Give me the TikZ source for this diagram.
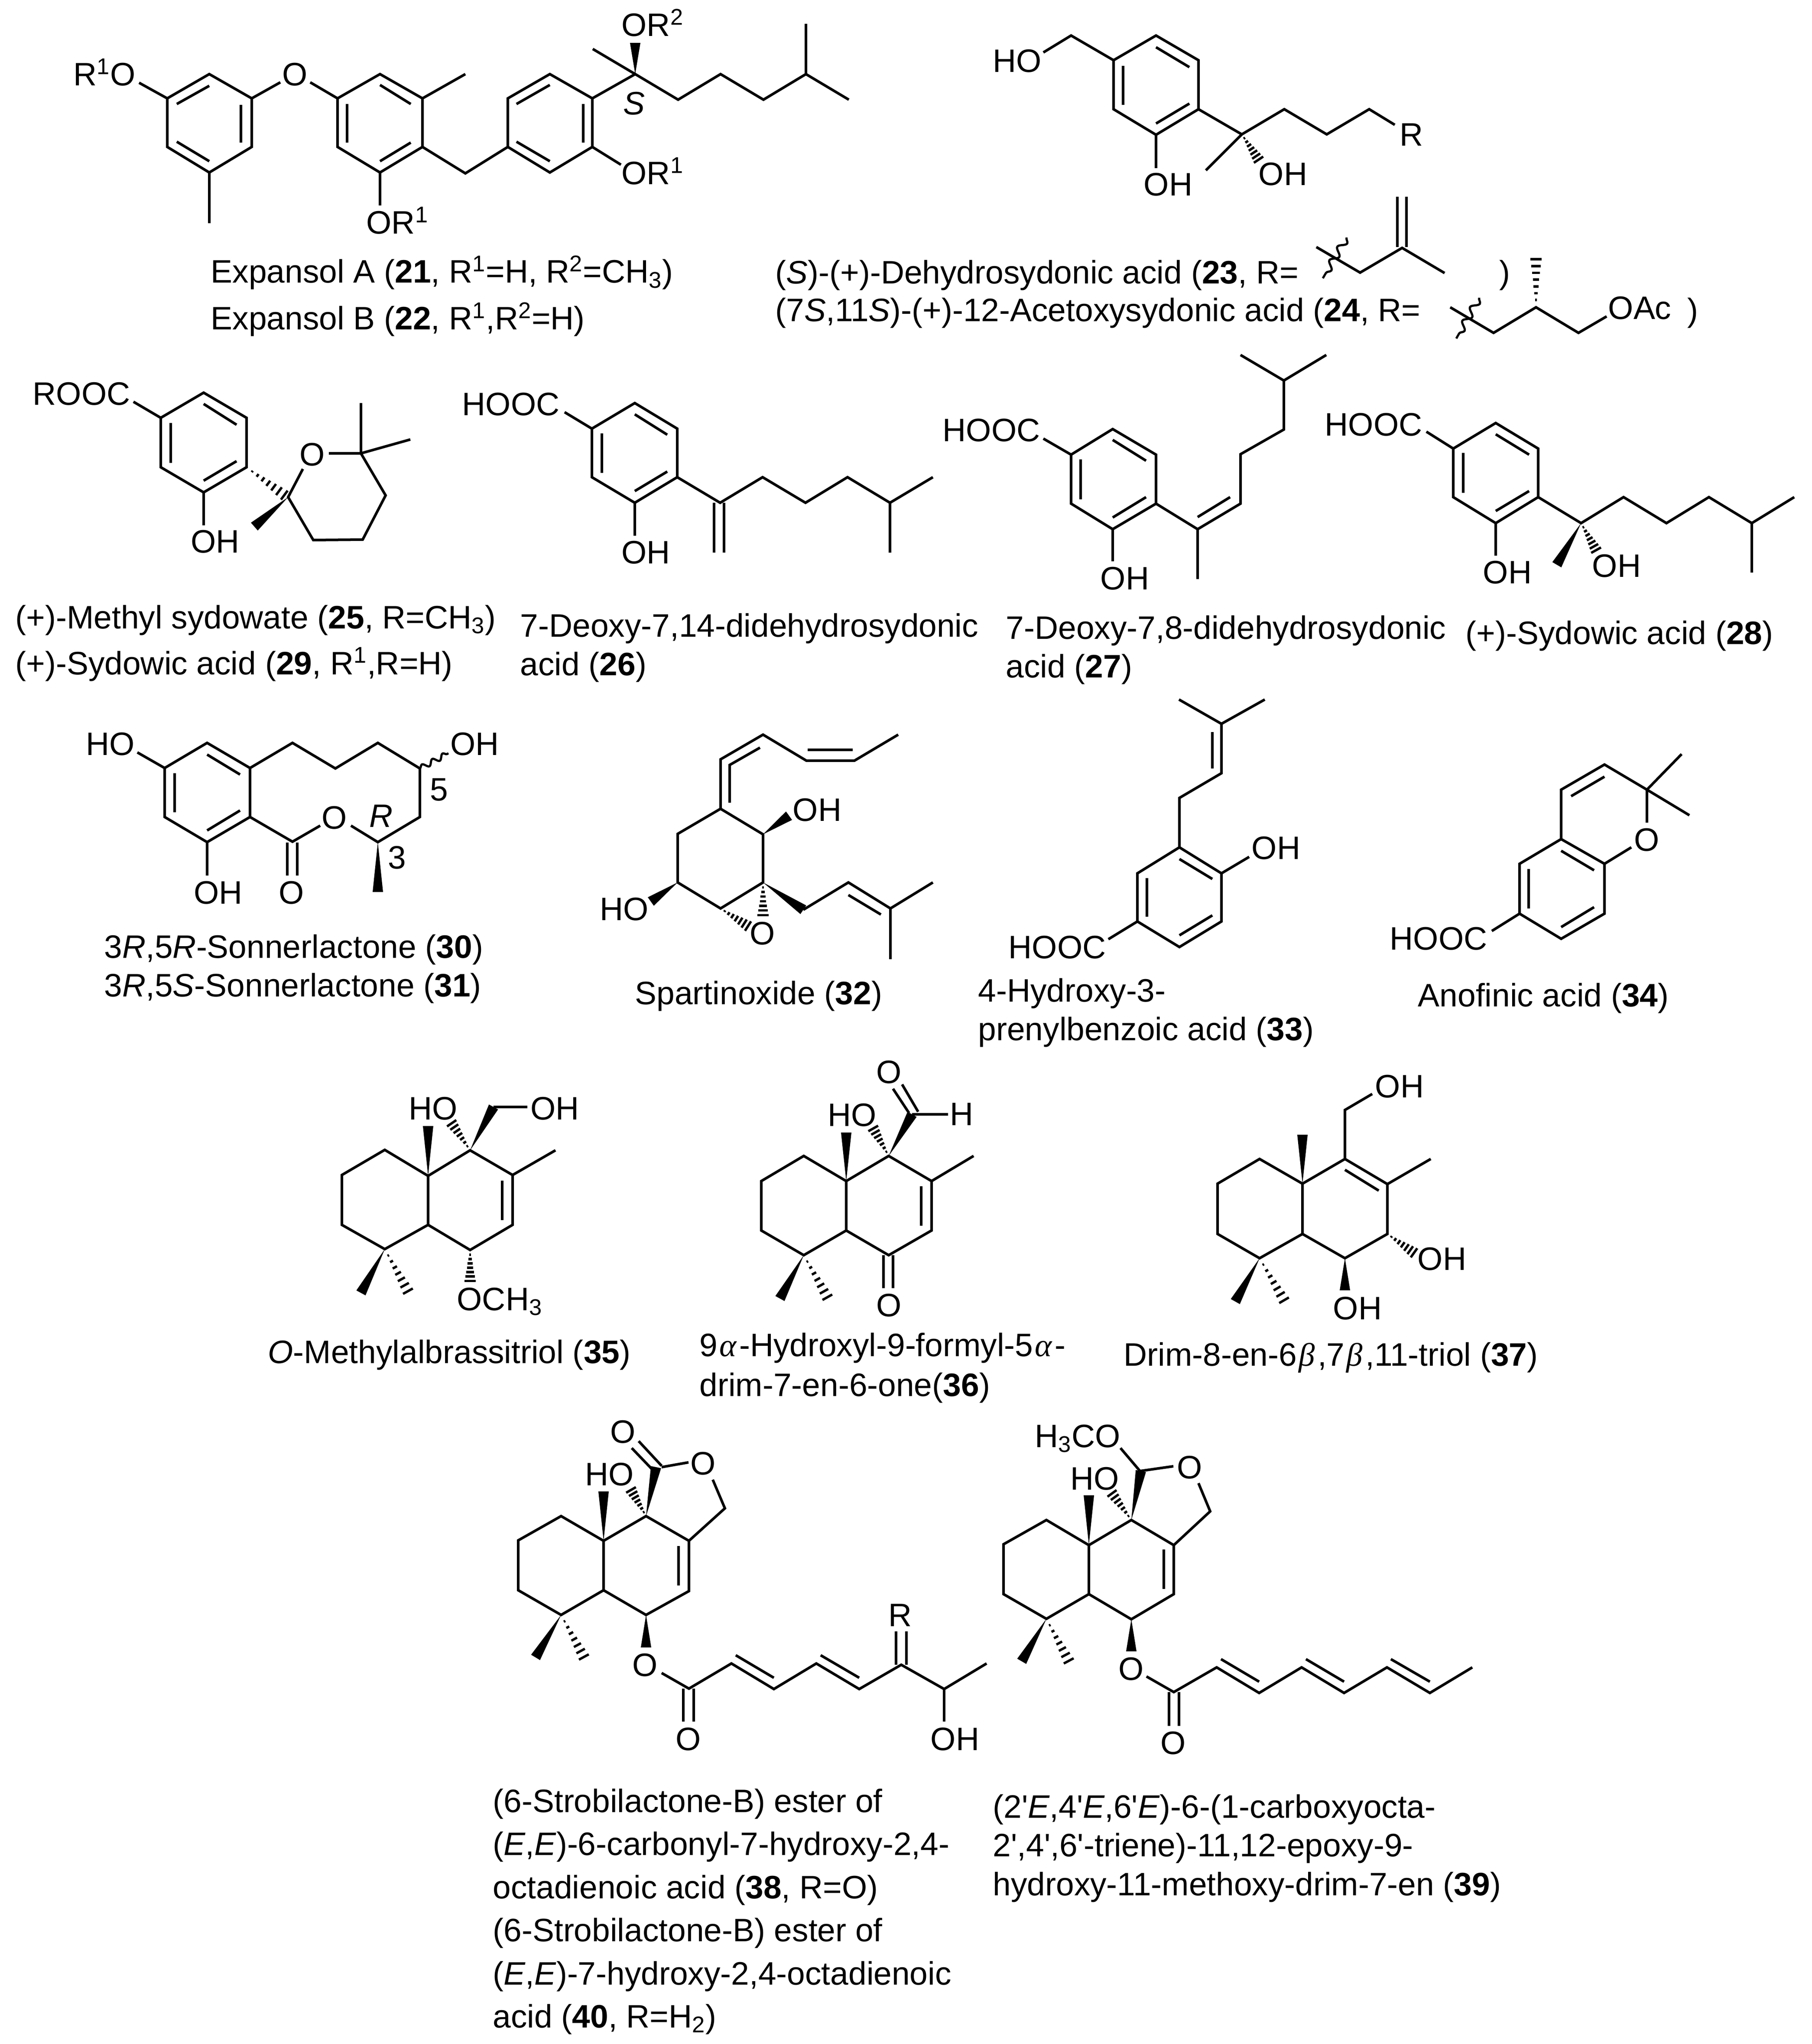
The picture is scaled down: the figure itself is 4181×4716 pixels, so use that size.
\documentclass[tikz,border=0pt]{standalone}
\usepackage{fontspec}
\newfontfamily\arialfont{Liberation Sans}
\newfontfamily\greekfont{Liberation Serif}
\usetikzlibrary{calc,decorations.pathmorphing}
\tikzset{
	bond/.style={line width=0.06cm},
	hashline/.style={line width=0.055cm},
	wavy/.style={line width=0.05cm,decorate,decoration={snake,amplitude=0.08cm,segment length=0.36cm}},
	txt/.style={font=\arialfont\fontsize{21.3}{25}\selectfont,inner sep=0pt,anchor=base west,xshift=-0.05cm}
}
\def\wedgebond(#1)(#2){\fill ($(#2)!0.12cm!90:(#1)$) -- (#1) -- ($(#2)!0.12cm!-90:(#1)$) -- cycle;}
\def\hashbond(#1)(#2){\foreach \t in {0.15,0.29,0.43,0.57,0.71,0.85,0.99}{\pgfmathsetmacro\hw{0.13*\t}\draw[hashline] ($(#1)!\t!(#2)!\hw cm!90:(#2)$) -- ($(#1)!\t!(#2)!\hw cm!-90:(#2)$);}}
\def\greek#1{\kern0.05em{\greekfont\itshape #1}\kern0.09em}

\begin{document}
\begin{tikzpicture}[x=0.01cm,y=-0.01cm]
	\useasboundingbox (0,0) rectangle (4181,4716);
	%%%%% 21, 22 %%%%%
	\draw[bond] (386,227) -- (483,171) -- (581,227) -- (581,339) -- (483,398) -- (386,339) -- cycle;
	\draw[bond] (408,240) -- (483,198) (556,242) -- (556,329) (408,327) -- (483,372);
	\draw[bond] (483,398) -- (483,515) (321,191) -- (386,227) (581,227) -- (647,190) (716,190) -- (779,227);
	\draw[bond] (779,227) -- (877,171) -- (975,227) -- (975,339) -- (877,398) -- (779,339) -- cycle;
	\draw[bond] (877,196) -- (948,240) (801,240) -- (801,329) (948,329) -- (877,372);
	\draw[bond] (975,227) -- (1074,171) (877,398) -- (877,474) (975,339) -- (1074,400) -- (1172,339);
	\draw[bond] (1172,227) -- (1269,171) -- (1367,227) -- (1367,339) -- (1269,398) -- (1172,339) -- cycle;
	\draw[bond] (1192,240) -- (1269,196) (1346,240) -- (1346,329) (1192,327) -- (1269,372);
	\draw[bond] (1367,227) -- (1466,171) -- (1565,230) -- (1663,171) -- (1762,230) -- (1860,171) -- (1959,230);
	\draw[bond] (1860,171) -- (1860,55) (1466,171) -- (1368,113) (1367,339) -- (1433,380);
	\wedgebond(1466,171)(1466,99)
	\node[txt] (ra) at (174,198) {R\textsuperscript{1}O};
	\node[txt] (oa) at (656,198) {O};
	\node[txt] (orb) at (850,540) {OR\textsuperscript{1}};
	\node[txt] (orc) at (1439,426) {OR\textsuperscript{1}};
	\node[txt] (ord) at (1439,84) {OR\textsuperscript{2}};
	\node[txt] (sa) at (1443,265) {\textit{S}};
	\node[txt] (t21) at (491,653) {Expansol A (\textbf{21}, R\textsuperscript{1}=H, R\textsuperscript{2}=CH\textsubscript{3})};
	\node[txt] (t22) at (491,761) {Expansol B (\textbf{22}, R\textsuperscript{1},R\textsuperscript{2}=H)};
	
	%%%%% 23, 24 %%%%%
	\draw[bond] (2570,139) -- (2668,82) -- (2766,139) -- (2766,252) -- (2668,311) -- (2570,252) -- cycle;
	\draw[bond] (2668,109) -- (2745,155) (2592,152) -- (2592,242) (2745,239) -- (2668,285);
	\draw[bond] (2570,139) -- (2472,82) -- (2408,121) (2668,311) -- (2668,388);
	\draw[bond] (2766,252) -- (2866,310) -- (2964,252) -- (3062,310) -- (3160,252) -- (3219,288) (2866,310) -- (2783,393);
	\hashbond(2866,310)(2905,369)
	\node[txt] (hoa) at (2296,167) {HO};
	\node[txt] (oha) at (2644,452) {OH};
	\node[txt] (ohb) at (2909,428) {OH};
	\node[txt] (ra2) at (3235,337) {R};
	\draw[bond] (3038,570) -- (3139,629) -- (3236,572) -- (3334,630) (3225,570) -- (3225,454) (3246,570) -- (3246,454);
	\draw[wavy] (3108,548) -- (3053,642);
	\node[txt] (t23) at (1794,655) {(\textit{S})-(+)-Dehydrosydonic acid (\textbf{23}, R=};
	\node[txt] (t23b) at (3465,655) {)};
	\draw[bond] (3347,709) -- (3447,768) -- (3545,709) -- (3643,768) -- (3708,730);
	\hashbond(3545,709)(3545,597)
	\draw[wavy] (3414,687) -- (3361,781);
	\node[txt] (oac) at (3716,737) {OAc};
	\node[txt] (t24) at (1794,742) {(7\textit{S},11\textit{S})-(+)-12-Acetoxysydonic acid (\textbf{24}, R=};
	\node[txt] (t24b) at (3899,742) {)};
	
	%%%%% 25, 29 %%%%%
	\draw[bond] (371,964) -- (470,906) -- (569,964) -- (569,1078) -- (470,1136) -- (371,1078) -- cycle;
	\draw[bond] (470,932) -- (546,980) (394,976) -- (394,1068) (546,1064) -- (470,1109);
	\draw[bond] (308,927) -- (371,964) (470,1136) -- (470,1212);
	\draw[bond] (699,1082) -- (665,1147) -- (723,1246) -- (837,1245) -- (890,1143) -- (833,1046) -- (759,1046);
	\draw[bond] (833,1046) -- (833,930) (833,1046) -- (947,1014);
	\hashbond(569,1078)(657,1143)
	\wedgebond(665,1147)(587,1215)
	\node[txt] (rooc) at (80,935) {ROOC};
	\node[txt] (ohc) at (445,1275) {OH};
	\node[txt] (ob) at (696,1074) {O};
	\node[txt] (t25) at (40,1450) {(+)-Methyl sydowate (\textbf{25}, R=CH\textsubscript{3})};
	\node[txt] (t29) at (40,1556) {(+)-Sydowic acid (\textbf{29}, R\textsuperscript{1},R=H)};
	
	%%%%% 26 %%%%%
	\draw[bond] (1366,989) -- (1465,930) -- (1563,989) -- (1563,1101) -- (1465,1160) -- (1366,1101) -- cycle;
	\draw[bond] (1465,956) -- (1540,1003) (1389,1000) -- (1389,1091) (1540,1088) -- (1465,1133);
	\draw[bond] (1303,951) -- (1366,989) (1465,1160) -- (1465,1236);
	\draw[bond] (1563,1101) -- (1662,1160) -- (1760,1101) -- (1859,1160) -- (1956,1101) -- (2054,1160) -- (2153,1101) (2054,1160) -- (2054,1275);
	\draw[bond] (1648,1160) -- (1648,1275) (1671,1160) -- (1671,1275);
	\node[txt] (hoocb) at (1071,959) {HOOC};
	\node[txt] (ohd) at (1439,1300) {OH};
	\node[txt] (t26) at (1205,1469) {7-Deoxy-7,14-didehydrosydonic};
	\node[txt] (t26b) at (1205,1558) {acid (\textbf{26})};
	
	%%%%% 27 %%%%%
	\draw[bond] (2472,1049) -- (2568,990) -- (2668,1049) -- (2668,1162) -- (2568,1221) -- (2472,1162) -- cycle;
	\draw[bond] (2568,1015) -- (2645,1063) (2494,1060) -- (2494,1152) (2645,1147) -- (2568,1194);
	\draw[bond] (2408,1012) -- (2472,1049) (2568,1221) -- (2568,1295);
	\draw[bond] (2668,1162) -- (2764,1221) -- (2863,1162) -- (2863,1048) -- (2963,991) -- (2963,878);
	\draw[bond] (2863,819) -- (2963,878) -- (3061,819) (2764,1193) -- (2839,1147) (2764,1221) -- (2764,1336);
	\node[txt] (hoocc) at (2180,1018) {HOOC};
	\node[txt] (ohe) at (2544,1360) {OH};
	\node[txt] (t27) at (2326,1474) {7-Deoxy-7,8-didehydrosydonic};
	\node[txt] (t27b) at (2326,1563) {acid (\textbf{27})};
	
	%%%%% 28 %%%%%
	\draw[bond] (3354,1035) -- (3452,976) -- (3550,1035) -- (3550,1147) -- (3452,1207) -- (3354,1147) -- cycle;
	\draw[bond] (3452,1002) -- (3529,1049) (3377,1045) -- (3377,1137) (3529,1133) -- (3452,1179);
	\draw[bond] (3292,996) -- (3354,1035) (3452,1207) -- (3452,1282);
	\draw[bond] (3550,1147) -- (3649,1207) -- (3747,1147) -- (3846,1207) -- (3944,1147) -- (4043,1207) -- (4141,1147) (4043,1207) -- (4043,1321);
	\wedgebond(3649,1207)(3593,1303)
	\hashbond(3649,1207)(3684,1270)
	\node[txt] (hoocd) at (3062,1005) {HOOC};
	\node[txt] (ohf) at (3427,1346) {OH};
	\node[txt] (ohg) at (3679,1331) {OH};
	\node[txt] (t28) at (3387,1486) {(+)-Sydowic acid (\textbf{28})};
	
	%%%%% 30, 31 %%%%%
	\draw[bond] (380,1772) -- (478,1714) -- (577,1772) -- (577,1885) -- (478,1943) -- (380,1885) -- cycle;
	\draw[bond] (478,1741) -- (554,1787) (403,1784) -- (403,1874) (554,1870) -- (478,1916);
	\draw[bond] (317,1736) -- (380,1772) (478,1943) -- (478,2020);
	\draw[bond] (577,1772) -- (675,1714) -- (774,1773) -- (872,1714) -- (969,1773) -- (969,1885) -- (872,1943) -- (810,1905);
	\draw[bond] (577,1885) -- (675,1942) -- (739,1905) (663,1944) -- (663,2020) (686,1944) -- (686,2020);
	\wedgebond(872,1943)(872,2058)
	\draw[wavy,decoration={amplitude=0.06cm,segment length=0.27cm}] (969,1773) -- (1035,1738);
	\node[txt] (hob) at (203,1742) {HO};
	\node[txt] (ohh) at (452,2085) {OH};
	\node[txt] (oc) at (747,1912) {O};
	\node[txt] (od) at (648,2085) {O};
	\node[txt] (ohi) at (1044,1742) {OH};
	\node[txt] (nthree) at (900,2004) {3};
	\node[txt] (nfive) at (997,1847) {5};
	\node[txt] (rb) at (857,1908) {\textit{R}};
	\node[txt] (t30) at (245,2210) {3\textit{R},5\textit{R}-Sonnerlactone (\textbf{30})};
	\node[txt] (t31) at (245,2299) {3\textit{R},5\textit{S}-Sonnerlactone (\textbf{31})};
	
	%%%%% 32 %%%%%
	\draw[bond] (1663,1866) -- (1564,1924) -- (1564,2036) -- (1663,2096) -- (1761,2036) -- (1761,1925) -- cycle;
	\draw[bond] (1663,1866) -- (1663,1752) -- (1761,1695) -- (1861,1755) -- (1972,1755) -- (2073,1695);
	\draw[bond] (1684,1852) -- (1684,1765) -- (1754,1725) (1864,1730) -- (1968,1730);
	\draw[bond] (1854,2099) -- (1958,2036) -- (2055,2096) -- (2055,2213) (2055,2096) -- (2153,2036) (1958,2065) -- (2033,2110);
	\wedgebond(1761,1925)(1821,1882)
	\wedgebond(1564,2036)(1502,2080)
	\wedgebond(1761,2036)(1854,2099)
	\hashbond(1761,2036)(1761,2112)
	\hashbond(1663,2096)(1727,2137)
	\node[txt] (ohj) at (1834,1894) {OH};
	\node[txt] (hoc) at (1389,2123) {HO};
	\node[txt] (oe) at (1735,2179) {O};
	\node[txt] (t32) at (1470,2317) {Spartinoxide (\textbf{32})};
	
	%%%%% 33 %%%%%
	\draw[bond] (2625,2015) -- (2722,1955) -- (2819,2015) -- (2819,2126) -- (2722,2185) -- (2625,2126) -- cycle;
	\draw[bond] (2722,1982) -- (2798,2028) (2647,2026) -- (2647,2115) (2798,2112) -- (2722,2158);
	\draw[bond] (2722,1955) -- (2722,1841) -- (2819,1784) -- (2819,1670) -- (2721,1614) (2819,1670) -- (2919,1614) (2798,1689) -- (2798,1773);
	\draw[bond] (2819,2015) -- (2883,1977) (2625,2126) -- (2558,2167);
	\node[txt] (ohk) at (2893,1982) {OH};
	\node[txt] (hoocE) at (2332,2211) {HOOC};
	\node[txt] (t33) at (2262,2311) {4-Hydroxy-3-};
	\node[txt] (t33b) at (2262,2400) {prenylbenzoic acid (\textbf{33})};
	
	%%%%% 34 %%%%%
	\draw[bond] (3507,1993) -- (3603,1936) -- (3703,1993) -- (3703,2108) -- (3603,2166) -- (3507,2108) -- cycle;
	\draw[bond] (3603,1963) -- (3679,2008) (3528,2005) -- (3528,2096) (3679,2093) -- (3603,2139);
	\draw[bond] (3603,1936) -- (3603,1822) -- (3703,1764) -- (3801,1822) -- (3801,1898) (3626,1837) -- (3703,1792);
	\draw[bond] (3881,1740) -- (3801,1822) -- (3899,1881) (3703,1993) -- (3765,1955) (3507,2108) -- (3443,2148);
	\node[txt] (of) at (3776,1963) {O};
	\node[txt] (hoocf) at (3212,2191) {HOOC};
	\node[txt] (t34) at (3277,2322) {Anofinic acid (\textbf{34})};
	
	%%%%% 35 %%%%%
	\draw[bond] (888,2653) -- (789,2711) -- (789,2826) -- (888,2882) -- (988,2826) -- (988,2713) -- cycle;
	\draw[bond] (988,2713) -- (1085,2654) -- (1183,2711) -- (1183,2826) -- (1085,2884) -- (988,2826);
	\draw[bond] (1159,2724) -- (1159,2815) (1183,2711) -- (1282,2654) (1139,2554) -- (1217,2554);
	\wedgebond(988,2713)(988,2598)
	\wedgebond(1085,2654)(1139,2554)
	\hashbond(1085,2654)(1042,2591)
	\wedgebond(888,2882)(833,2983)
	\hashbond(888,2882)(942,2980)
	\hashbond(1085,2884)(1085,2956)
	\node[txt] (hod) at (948,2583) {HO};
	\node[txt] (ohl) at (1229,2583) {OH};
	\node[txt] (och) at (1059,3023) {OCH\textsubscript{3}};
	\node[txt] (t35) at (623,3145) {\textit{O}-Methylalbrassitriol (\textbf{35})};
	
	%%%%% 36 %%%%%
	\draw[bond] (1855,2667) -- (1757,2725) -- (1757,2839) -- (1855,2896) -- (1953,2839) -- (1953,2725) -- cycle;
	\draw[bond] (1953,2725) -- (2051,2667) -- (2150,2725) -- (2150,2839) -- (2051,2896) -- (1953,2839);
	\draw[bond] (2126,2737) -- (2126,2828) (2150,2725) -- (2247,2667) (2039,2896) -- (2039,2972) (2061,2896) -- (2061,2972);
	\draw[bond] (2105,2571) -- (2188,2571) (2061,2512) -- (2098,2568) (2082,2502) -- (2119,2565);
	\wedgebond(1953,2725)(1953,2613)
	\wedgebond(2051,2667)(2105,2571)
	\hashbond(2051,2667)(2015,2603)
	\wedgebond(1855,2896)(1800,2996)
	\hashbond(1855,2896)(1910,2994)
	\node[txt] (hoe) at (1915,2598) {HO};
	\node[txt] (ha) at (2197,2596) {H};
	\node[txt] (og) at (2027,2499) {O};
	\node[txt] (oh) at (2027,3037) {O};
	\node[txt] (t36) at (1619,3129) {9\greek{α}-Hydroxyl-9-formyl-5\greek{α}-};
	\node[txt] (t36b) at (1619,3221) {drim-7-en-6-one(\textbf{36})};
	
	%%%%% 37 %%%%%
	\draw[bond] (2907,2674) -- (2810,2731) -- (2810,2847) -- (2907,2903) -- (3006,2847) -- (3006,2731) -- cycle;
	\draw[bond] (3006,2731) -- (3104,2674) -- (3202,2732) -- (3202,2847) -- (3104,2903) -- (3006,2847);
	\draw[bond] (3104,2699) -- (3182,2747) (3202,2732) -- (3302,2674) (3104,2674) -- (3104,2561) -- (3167,2524);
	\wedgebond(3006,2731)(3006,2618)
	\hashbond(3202,2847)(3264,2891)
	\wedgebond(3104,2903)(3104,2977)
	\wedgebond(2907,2903)(2851,3003)
	\hashbond(2907,2903)(2964,3001)
	\node[txt] (ohm) at (3178,2532) {OH};
	\node[txt] (ohn) at (3276,2930) {OH};
	\node[txt] (oho) at (3081,3044) {OH};
	\node[txt] (t37) at (2598,3151) {Drim-8-en-6\greek{β},7\greek{β},11-triol (\textbf{37})};
	
	%%%%% 38, 40 %%%%%
	\draw[bond] (1295,3498) -- (1196,3554) -- (1196,3669) -- (1295,3726) -- (1393,3669) -- (1393,3555) -- cycle;
	\draw[bond] (1393,3555) -- (1491,3498) -- (1590,3555) -- (1590,3671) -- (1491,3726) -- (1393,3669);
	\draw[bond] (1566,3567) -- (1566,3658) (1590,3555) -- (1673,3480) -- (1645,3414) (1589,3374) -- (1527,3385);
	\draw[bond] (1527,3382) -- (1474,3325) (1506,3391) -- (1458,3341);
	\wedgebond(1491,3498)(1514,3385)
	\wedgebond(1393,3555)(1393,3441)
	\hashbond(1491,3498)(1456,3437)
	\wedgebond(1295,3726)(1236,3824)
	\hashbond(1295,3726)(1348,3824)
	\wedgebond(1491,3726)(1491,3801)
	\draw[bond] (1527,3860) -- (1590,3896) -- (1688,3838) -- (1786,3897) -- (1884,3838) -- (1983,3897) -- (2080,3841) -- (2179,3897) -- (2277,3838);
	\draw[bond] (1577,3896) -- (1577,3972) (1601,3896) -- (1601,3972) (1698,3819) -- (1786,3871) (1894,3819) -- (1983,3871);
	\draw[bond] (2068,3841) -- (2068,3764) (2092,3841) -- (2092,3764) (2179,3897) -- (2179,3972);
	\node[txt] (oi) at (1598,3402) {O};
	\node[txt] (oj) at (1413,3329) {O};
	\node[txt] (hof) at (1355,3427) {HO};
	\node[txt] (ok) at (1464,3867) {O};
	\node[txt] (ol) at (1564,4038) {O};
	\node[txt] (rc) at (2055,3752) {R};
	\node[txt] (ohp) at (2152,4038) {OH};
	\node[txt] (t38a) at (1142,4181) {(6-Strobilactone-B) ester of};
	\node[txt] (t38b) at (1142,4280) {(\textit{E},\textit{E})-6-carbonyl-7-hydroxy-2,4-};
	\node[txt] (t38c) at (1142,4380) {octadienoic acid (\textbf{38}, R=O)};
	\node[txt] (t40a) at (1142,4479) {(6-Strobilactone-B) ester of};
	\node[txt] (t40b) at (1142,4579) {(\textit{E},\textit{E})-7-hydroxy-2,4-octadienoic};
	\node[txt] (t40c) at (1142,4678) {acid (\textbf{40}, R=H\textsubscript{2})};
	
	%%%%% 39 %%%%%
	\draw[bond] (2415,3507) -- (2316,3563) -- (2316,3678) -- (2415,3735) -- (2513,3678) -- (2513,3565) -- cycle;
	\draw[bond] (2513,3565) -- (2611,3507) -- (2709,3565) -- (2709,3678) -- (2611,3736) -- (2513,3678);
	\draw[bond] (2686,3575) -- (2686,3666) (2709,3565) -- (2793,3487) -- (2766,3422) (2708,3383) -- (2631,3394) -- (2586,3341);
	\wedgebond(2611,3507)(2633,3394)
	\wedgebond(2513,3565)(2513,3450)
	\hashbond(2611,3507)(2566,3445)
	\wedgebond(2415,3735)(2358,3833)
	\hashbond(2415,3735)(2467,3833)
	\wedgebond(2611,3736)(2611,3810)
	\draw[bond] (2646,3868) -- (2709,3904) -- (2808,3847) -- (2906,3906) -- (3004,3847) -- (3102,3906) -- (3201,3847) -- (3300,3906) -- (3398,3847);
	\draw[bond] (2698,3904) -- (2698,3982) (2721,3904) -- (2721,3982) (2818,3828) -- (2906,3880) (3014,3828) -- (3102,3880) (3210,3828) -- (3300,3880);
	\node[txt] (om) at (2721,3411) {O};
	\node[txt] (hco) at (2393,3339) {H\textsubscript{3}CO};
	\node[txt] (hog) at (2475,3437) {HO};
	\node[txt] (on) at (2586,3876) {O};
	\node[txt] (oo) at (2683,4047) {O};
	\node[txt] (t39a) at (2296,4194) {(2'\textit{E},4'\textit{E},6'\textit{E})-6-(1-carboxyocta-};
	\node[txt] (t39b) at (2296,4283) {2',4',6'-triene)-11,12-epoxy-9-};
	\node[txt] (t39c) at (2296,4373) {hydroxy-11-methoxy-drim-7-en (\textbf{39})};
\end{tikzpicture}
\end{document}
